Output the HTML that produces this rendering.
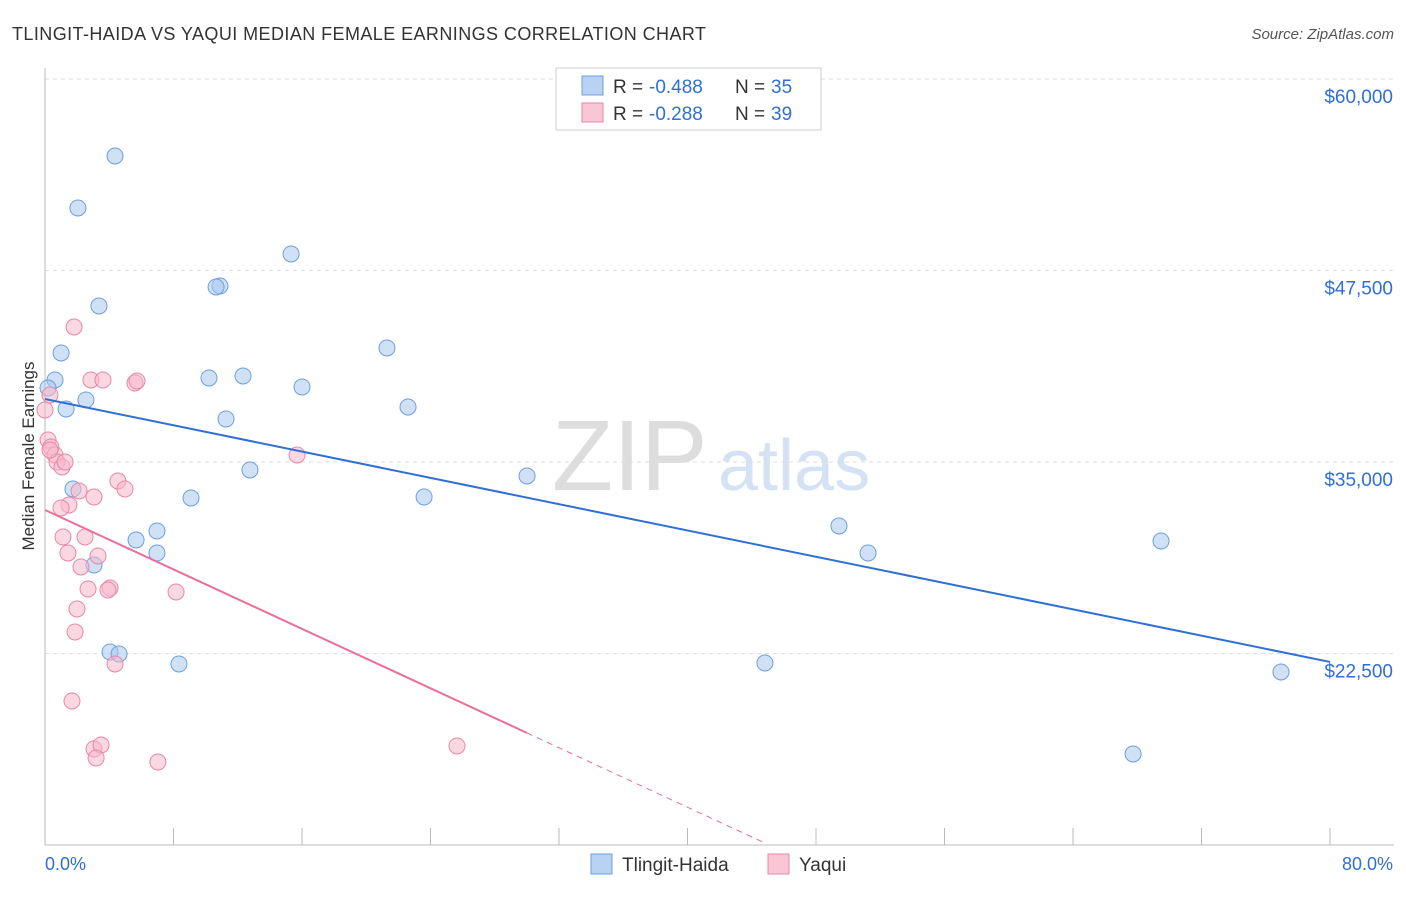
<!DOCTYPE html>
<html><head><meta charset="utf-8"><style>
body{margin:0;background:#fff;font-family:"Liberation Sans",sans-serif;}
svg text{font-family:"Liberation Sans",sans-serif;}
</style></head><body>
<svg id="c" width="1406" height="892">
<text x="12" y="40" font-size="18" fill="#333" textLength="694" lengthAdjust="spacing">TLINGIT-HAIDA VS YAQUI MEDIAN FEMALE EARNINGS CORRELATION CHART</text>
<text x="1394" y="39" font-size="15" fill="#555" font-style="italic" text-anchor="end">Source: ZipAtlas.com</text>
<text x="34" y="456" font-size="17" fill="#333" text-anchor="middle" transform="rotate(-90 34 456)">Median Female Earnings</text>
<text x="552" y="490" font-size="100" fill="#ddd" font-family="Liberation Serif">ZIP</text>
<text x="718" y="490" font-size="72" fill="#d4e2f4">atlas</text>
<g id="grid"></g><g id="pts"></g><g id="lines"></g>
<g>
<rect x="556" y="68" width="265" height="62" fill="#fff" stroke="#ccc"/>
<rect x="582" y="76" width="21" height="19" fill="#b8d2f3" stroke="#6c9fe0"/>
<rect x="582" y="103" width="21" height="19" fill="#f8c6d5" stroke="#e986a8"/>
<g font-size="19" fill="#333">
<text x="613" y="93">R =</text><text x="649" y="93" fill="#2f6fd6">-0.488</text><text x="735" y="93">N =</text><text x="771" y="93" fill="#2f6fd6">35</text></g>
<g font-size="19" fill="#333">
<text x="613" y="120">R =</text><text x="649" y="120" fill="#2f6fd6">-0.288</text><text x="735" y="120">N =</text><text x="771" y="120" fill="#2f6fd6">39</text></g>
</g>
<g>
<rect x="591" y="854" width="21" height="20" fill="#b8d2f3" stroke="#6c9fe0"/>
<text x="622" y="871" font-size="19" fill="#333">Tlingit-Haida</text>
<rect x="768" y="854" width="21" height="20" fill="#f8c6d5" stroke="#e986a8"/>
<text x="799" y="871" font-size="19" fill="#333">Yaqui</text>
</g>
<text x="45" y="870" font-size="18" fill="#2f6fd6">0.0%</text>
<text x="1393" y="870" font-size="18" fill="#2f6fd6" text-anchor="end">80.0%</text>
</svg>
<script>
const yTicks=[60000,47500,35000,22500];
const yTickLabels=["$60,000","$47,500","$35,000","$22,500"];
const xTicks=[0,8,16,24,32,40,48,56,64,72,80];
const blueX=[4.36,2.05,3.36,15.32,10.89,10.65,1.0,0.62,0.19,2.55,1.31,10.21,12.33,16.0,11.27,21.29,22.6,12.76,9.09,1.74,30.01,23.6,6.97,5.67,6.97,3.05,49.43,51.24,69.48,4.05,4.61,8.34,44.82,76.95,67.74];
const blueY=[54974,51580,45184,48578,46490,46424,42116,40354,39832,39049,38461,40485,40615,39897,37808,42442,38592,34480,32652,33240,34089,32718,30498,29911,29062,28279,30824,29062,29845,22600,22470,21817,21883,21295,15943];
const pinkX=[0,0.19,0.37,0.62,0.75,1.06,1.81,2.86,3.61,5.6,5.73,15.69,4.54,4.98,3.05,2.12,1.49,1.0,1.12,2.49,1.43,3.3,2.24,2.68,4.05,3.92,8.16,1.99,1.87,4.36,1.68,3.05,3.49,3.18,7.03,25.65,0.31,0.31,1.25];
const pinkY=[38396,36437,35981,35458,35001,34675,43813,40354,40354,40158,40289,35458,33761,33239,32717,33109,32195,32000,30106,30106,29062,28866,28148,26712,26777,26647,26516,25407,23906,21817,19402,16267,16529,15680,15419,16464,39375,35785,35001];
const blueTrend=[39114,21948];
const pinkTrend=[31868,-485];
const NS="http://www.w3.org/2000/svg";
const X=v=>45+v/80*1285, Y=v=>845-(v-10000)/50000*766;
function mk(p,t,a){const e=document.createElementNS(NS,t);for(const k in a)e.setAttribute(k,a[k]);p.appendChild(e);return e;}
const g=document.getElementById('grid');
yTicks.forEach((t,i)=>{
 const l=mk(g,'line',{x1:45,x2:1394,y1:Y(t),y2:Y(t),stroke:'#ddd','stroke-dasharray':'4,4'});
 
 
 const tx=mk(g,'text',{x:1393,y:Y(t)+24,'font-size':19,fill:'#2f6fd6','text-anchor':'end'});
 tx.textContent=yTickLabels[i];
 
 
});
const ax=mk(g,'line',{x1:45,x2:1394,y1:845,y2:845,stroke:'#bbb'});


const ay=mk(g,'line',{x1:45,x2:45,y1:68,y2:845,stroke:'#bbb'});


xTicks.forEach(t=>{const l=mk(g,'line',{x1:X(t),x2:X(t),y1:828,y2:845,stroke:'#bbb'});
 
 });
const p=document.getElementById('pts');
blueX.forEach((x,i)=>{const c=mk(p,'circle',{cx:X(x),cy:Y(blueY[i]),r:8,fill:'rgba(169,200,239,0.55)',stroke:'#6c9fe0','stroke-width':1});
 
 });
pinkX.forEach((x,i)=>{const c=mk(p,'circle',{cx:X(x),cy:Y(pinkY[i]),r:8,fill:'rgba(245,184,203,0.55)',stroke:'#e986a8','stroke-width':1});
 
 });
const L=document.getElementById('lines');
const bl=mk(L,'line',{x1:X(0),y1:Y(blueTrend[0]),x2:X(80),y2:Y(blueTrend[1]),stroke:'#2f6fd6','stroke-width':2});


const pf=x=>pinkTrend[0]+pinkTrend[1]*x;
const pl=mk(L,'line',{x1:X(0),y1:Y(pf(0)),x2:X(30),y2:Y(pf(30)),stroke:'#e8709a','stroke-width':2});


const pd=mk(L,'line',{x1:X(30),y1:Y(pf(30)),x2:X(44.8),y2:Y(pf(44.8)),stroke:'#e8709a','stroke-width':1,'stroke-dasharray':'6,5'});


</script>
</body></html>
